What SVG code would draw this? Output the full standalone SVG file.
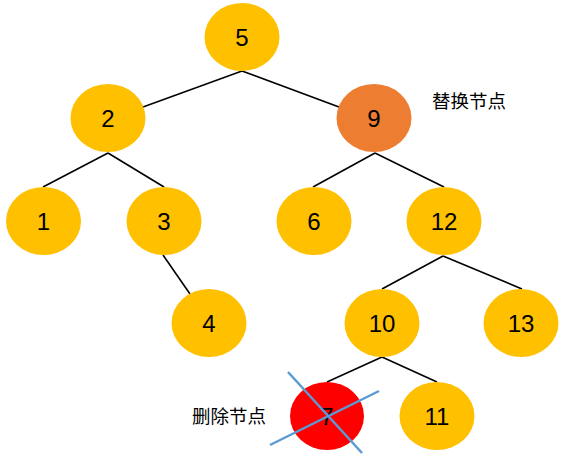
<svg xmlns="http://www.w3.org/2000/svg" width="566" height="460" viewBox="0 0 566 460">
<style>
.n{fill:#FFC000}
.r{fill:#ED7D31}
.d{fill:#FF0000}
.t{font-family:"Liberation Sans",Arial,sans-serif;font-size:24px;fill:#000;text-anchor:middle}
.l{font-family:"Noto Sans CJK SC","Noto Sans",sans-serif;font-size:18.5px;fill:#000}
.e{stroke:#000;stroke-width:1.6;fill:none}
.x{stroke:#5B9BD5;stroke-width:2.5;fill:none}
</style>
<rect width="566" height="460" fill="#fff"/>
<g id="connectors">
<line class="e" x1="242" y1="71" x2="143" y2="107"/>
<line class="e" x1="242" y1="71" x2="339" y2="107"/>
<line class="e" x1="108" y1="153" x2="43" y2="187"/>
<line class="e" x1="108" y1="153" x2="164" y2="187"/>
<line class="e" x1="163" y1="255" x2="190" y2="294"/>
<line class="e" x1="375" y1="153" x2="313" y2="187"/>
<line class="e" x1="375" y1="153" x2="444" y2="187"/>
<line class="e" x1="443" y1="256" x2="382" y2="289"/>
<line class="e" x1="443" y1="256" x2="522" y2="289"/>
<line class="e" x1="382" y1="357" x2="327" y2="382"/>
<line class="e" x1="382" y1="357" x2="437" y2="382"/>
</g>
<g id="n5"><ellipse class="n" cx="242" cy="37" rx="37.5" ry="34"/><text class="t" x="242" y="46">5</text></g>
<g id="n2"><ellipse class="n" cx="108" cy="118" rx="37.5" ry="34"/><text class="t" x="108" y="127">2</text></g>
<g id="n9"><ellipse class="r" cx="374" cy="118" rx="37.5" ry="34"/><text class="t" x="374" y="127">9</text></g>
<g id="n1"><ellipse class="n" cx="43.5" cy="221" rx="37.5" ry="34"/><text class="t" x="43.5" y="230">1</text></g>
<g id="n3"><ellipse class="n" cx="164" cy="221" rx="37.5" ry="34"/><text class="t" x="164" y="230">3</text></g>
<g id="n4"><ellipse class="n" cx="209" cy="323" rx="37.5" ry="34"/><text class="t" x="209" y="332">4</text></g>
<g id="n6"><ellipse class="n" cx="314" cy="221" rx="37.5" ry="34"/><text class="t" x="314" y="230">6</text></g>
<g id="n12"><ellipse class="n" cx="444" cy="221" rx="37.5" ry="34"/><text class="t" x="444" y="230">12</text></g>
<g id="n10"><ellipse class="n" cx="382" cy="323" rx="37.5" ry="34"/><text class="t" x="382" y="332">10</text></g>
<g id="n13"><ellipse class="n" cx="521" cy="323" rx="37.5" ry="34"/><text class="t" x="521" y="332">13</text></g>
<g id="n11"><ellipse class="n" cx="437" cy="416" rx="37.5" ry="34"/><text class="t" x="437" y="425">11</text></g>
<g id="n7"><ellipse class="d" cx="327" cy="416" rx="37" ry="34"/><text class="t" x="327" y="425">7</text>
<line class="x" x1="288" y1="372" x2="362" y2="453"/>
<line class="x" x1="379" y1="391" x2="270" y2="445"/>
</g>
<text class="l" x="432" y="108">替换节点</text>
<text class="l" x="192" y="423">删除节点</text>
</svg>
